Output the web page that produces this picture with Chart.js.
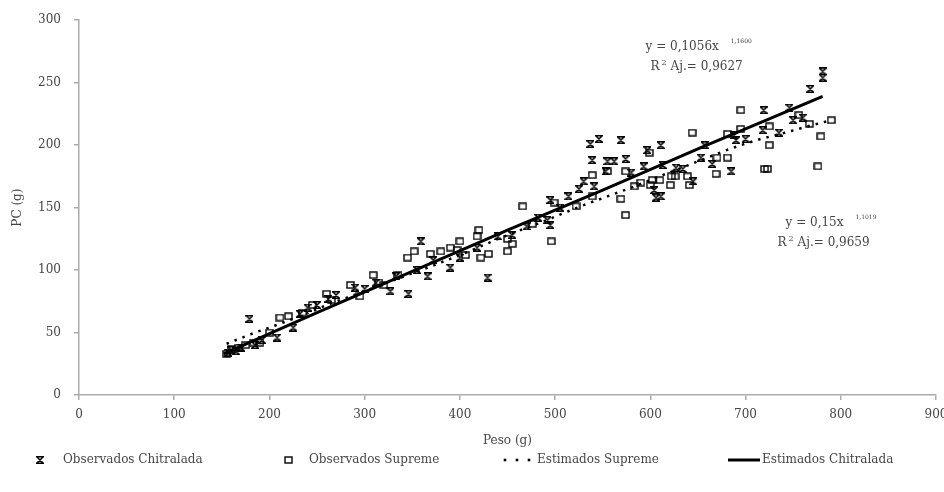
<!DOCTYPE html>
<html>
<head>
<meta charset="utf-8">
<script src="https://cdn.jsdelivr.net/npm/chart.js@4.4.0/dist/chart.umd.min.js"></script>
<style>
  html, body { margin: 0; padding: 0; background: #ffffff; }
  #c { display: block; }
</style>
</head>
<body>
<canvas id="c" width="944" height="492"></canvas>
<script>
// Observed body weight (g) and PC (g), Chitralada strain
const chitraladaPeso = [157,160,165,170,179,185,192,208,225,232,240,250,262,270,290,300,312,327,333,346,
  359,366,355,372,390,400,418,429,440,455,470,482,492,495,495,505,514,525,530,537,
  546,539,541,553,555,562,569,574,580,593,597,604,606,611,611,613,627,634,645,653,
  657,665,685,688,690,700,718,719,735,746,750,760,768,781,781];
const chitraladaPC = [34,36,35,38,61,40,44,46,54,65,70,72,77,80,86,85,90,83,95,81,
  123,95,100,108,102,110,118,94,127,128,135,142,140,136,156,150,159,165,171,201,
  205,188,167,179,187,187,204,189,178,183,196,164,158,159,200,184,182,181,171,190,
  200,185,179,208,204,205,212,228,210,230,220,222,245,259,254];

// Observed body weight (g) and PC (g), Supreme strain
const supremePeso = [155,160,168,175,183,190,200,211,220,235,245,260,265,285,295,309,315,320,335,345,
  352,369,380,390,397,400,406,418,420,422,430,450,450,455,466,476,496,499,522,539,
  539,555,569,574,574,583,590,599,600,602,610,621,622,626,639,641,644,669,670,681,
  681,695,695,720,723,725,725,756,767,776,779,790];
const supremePC = [33,37,38,40,42,42,50,62,63,66,72,81,76,88,79,96,90,88,96,110,
  115,113,115,118,116,123,112,127,132,110,113,125,115,121,151,137,123,154,151,176,
  159,179,157,144,179,167,170,194,168,172,172,168,175,175,175,168,210,177,190,190,
  209,213,228,181,181,215,200,224,217,183,207,220];

// Estimated curves
const estSupremePeso = [155,165,175,185,200,211,225,245,260,285,300,320,345,370,390,410,437,460,485,507,
  530,555,580,606,630,660,680,699,716,737,751,770,790];
const estSupremePC = [41,44,47,50,54,57,61,67,72,79,83,89,96,103,109,115,124,131,138,145,
  152,159,166,174,181,190,196,201,205,209,212,216,220];
const estChitraladaPeso = [152,250,350,450,550,650,781];
const estChitraladaPC = [33,66,99,132,164,197,239];

// Axis ticks
const xTicks = [0,100,200,300,400,500,600,700,800,900];
const yTicks = [0,50,100,150,200,250,300];

const seriesNames = ['Observados Chitralada','Observados Supreme','Estimados Supreme','Estimados Chitralada'];

// Equation labels, anchored in data units
const equations = [
  { x: 595, y: 279, main: 'y = 0,1056x', sup: '1,1600', r2: '0,9627', dx: 5 },
  { x: 742, y: 138, main: 'y = 0,15x', sup: '1,1019', r2: '0,9659', dx: -8 }
];

const FONT = "'DejaVu Serif', 'Liberation Serif', serif";
const TEXT = '#464646';
const AXIS = '#ababab';

function hourglassMarker() {
  const c = document.createElement('canvas');
  c.width = 8; c.height = 8;
  const g = c.getContext('2d');
  g.strokeStyle = '#000'; g.lineWidth = 1.5;
  g.beginPath();
  g.moveTo(0, 0.8); g.lineTo(8, 0.8);
  g.moveTo(0, 7.2); g.lineTo(8, 7.2);
  g.moveTo(1, 1); g.lineTo(7, 7);
  g.moveTo(7, 1); g.lineTo(1, 7);
  g.stroke();
  return c;
}
function squareMarker() {
  const c = document.createElement('canvas');
  c.width = 9; c.height = 8;
  const g = c.getContext('2d');
  g.strokeStyle = '#000'; g.lineWidth = 1.4;
  g.strokeRect(1, 1, 7, 6);
  return c;
}
const chitMarker = hourglassMarker();
const supMarker = squareMarker();

function pairs(xs, ys) { return xs.map((x, i) => ({ x: x, y: ys[i] })); }

// Equation text plugin
const equationPlugin = {
  id: 'equations',
  afterDatasetsDraw(chart) {
    const { ctx, scales } = chart;
    ctx.save();
    ctx.fillStyle = TEXT;
    ctx.textBaseline = 'middle';
    ctx.textAlign = 'left';
    equations.forEach(e => {
      const px = scales.x.getPixelForValue(e.x);
      const py = scales.y.getPixelForValue(e.y);
      ctx.font = '12px ' + FONT;
      ctx.fillText(e.main, px, py);
      const w = ctx.measureText(e.main).width;
      ctx.font = '6px ' + FONT;
      ctx.fillText(e.sup, px + w + 12, py - 5);
      const ry = py + 20;
      const rx = px + e.dx;
      ctx.font = '12px ' + FONT;
      ctx.fillText('R', rx, ry);
      const rw = ctx.measureText('R').width;
      ctx.font = '8px ' + FONT;
      ctx.fillText('2', rx + rw + 2, ry - 4);
      ctx.font = '12px ' + FONT;
      ctx.fillText('Aj.= ' + e.r2, rx + rw + 11, ry);
    });
    ctx.restore();
  }
};

// Legend row under the x-axis title
const legendPlugin = {
  id: 'bottomLegend',
  afterDraw(chart) {
    const { ctx } = chart;
    const y = chart.scales.x.bottom + 12;
    const items = [
      { kind: 'chit', x: 40, tx: 63 },
      { kind: 'sup', x: 288, tx: 309 },
      { kind: 'dots', x: 505, tx: 537 },
      { kind: 'line', x: 728, tx: 762 }
    ];
    ctx.save();
    items.forEach((it, i) => {
      if (it.kind === 'chit') ctx.drawImage(chitMarker, it.x - 4, y - 4);
      else if (it.kind === 'sup') ctx.drawImage(supMarker, it.x - 4, y - 4);
      else if (it.kind === 'dots') {
        ctx.fillStyle = '#000';
        [0, 12, 24].forEach(o => ctx.fillRect(it.x + o - 1.3, y - 1.3, 2.6, 2.6));
      } else {
        ctx.fillStyle = '#000';
        ctx.fillRect(it.x, y - 1.5, 32, 3);
      }
      ctx.fillStyle = TEXT;
      ctx.font = '12px ' + FONT;
      ctx.textBaseline = 'middle';
      ctx.textAlign = 'left';
      ctx.fillText(seriesNames[i], it.tx, y);
    });
    ctx.restore();
  }
};

new Chart(document.getElementById('c'), {
  type: 'scatter',
  data: {
    datasets: [
      { label: seriesNames[0], data: pairs(chitraladaPeso, chitraladaPC), pointStyle: chitMarker, pointRadius: 4, showLine: false },
      { label: seriesNames[1], data: pairs(supremePeso, supremePC), pointStyle: supMarker, pointRadius: 4, showLine: false },
      { label: seriesNames[2], data: pairs(estSupremePeso, estSupremePC), showLine: true, pointRadius: 0,
        borderColor: '#000', borderWidth: 2.5, borderDash: [2.5, 6], borderCapStyle: 'butt', fill: false },
      { label: seriesNames[3], data: pairs(estChitraladaPeso, estChitraladaPC), showLine: true, pointRadius: 0,
        borderColor: '#000', borderWidth: 3, fill: false, tension: 0 }
    ]
  },
  options: {
    responsive: false,
    animation: false,
    devicePixelRatio: 1,
    layout: { padding: { left: 0, right: 8, top: 20, bottom: 44 } },
    plugins: {
      legend: { display: false },
      tooltip: { enabled: false }
    },
    scales: {
      x: {
        type: 'linear', min: 0, max: 900,
        afterBuildTicks(s) { s.ticks = xTicks.map(v => ({ value: v })); },
        ticks: { color: TEXT, font: { family: FONT, size: 12 }, padding: 8, maxRotation: 0 },
        grid: { drawOnChartArea: false, drawTicks: true, tickLength: 5, color: AXIS, lineWidth: 1.5 },
        border: { display: true, color: AXIS, width: 1.5 },
        title: { display: true, text: 'Peso (g)', color: TEXT, font: { family: FONT, size: 12 }, padding: { top: 0, bottom: 0 } },
        afterFit(s) { s.height = 53; s.paddingRight = 0; s.paddingLeft = 0; }
      },
      y: {
        type: 'linear', min: 0, max: 300, position: 'left',
        afterBuildTicks(s) { s.ticks = yTicks.map(v => ({ value: v })); },
        ticks: { color: TEXT, font: { family: FONT, size: 12 }, padding: 13 },
        grid: { drawOnChartArea: false, drawTicks: true, tickLength: 5, color: AXIS, lineWidth: 1.5 },
        border: { display: true, color: AXIS, width: 1.5 },
        title: { display: true, text: 'PC (g)', color: TEXT, font: { family: FONT, size: 12 }, padding: { top: 11, bottom: 0 } },
        afterFit(s) { s.width = 79; }
      }
    }
  },
  plugins: [equationPlugin, legendPlugin]
});
</script>
</body>
</html>
